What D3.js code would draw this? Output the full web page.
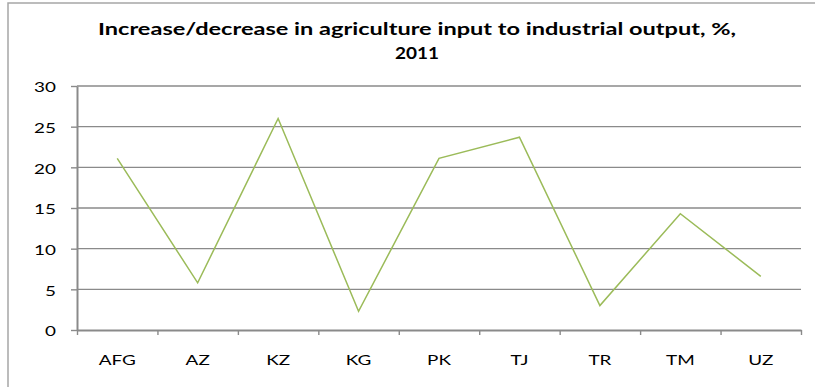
<!DOCTYPE html>
<html>
<head>
<meta charset="utf-8">
<script src="https://cdn.jsdelivr.net/npm/d3@7"></script>
<style>
  html, body { margin: 0; padding: 0; background: #fff; }
  svg { display: block; }
</style>
</head>
<body>
<svg id="chart" width="815" height="387"></svg>
<script>
// Country codes along the category axis
const categories = ["AFG", "AZ", "KZ", "KG", "PK", "TJ", "TR", "TM", "UZ"];
// Change in agriculture input to industrial output, %, 2011
const values = [21.1, 5.8, 26.0, 2.3, 21.1, 23.7, 3.0, 14.3, 6.6];
// Value axis ticks
const yTicks = [0, 5, 10, 15, 20, 25, 30];
const titleLines = ["Increase/decrease in agriculture input to industrial output, %,", "2011"];

const svg = d3.select("#chart");
const W = 815, H = 387;
const plot = { left: 77, right: 801, top: 86, bottom: 330 };
const gray = "#8a8a8a";
const stretch = 1.35; // horizontal widening of the label glyphs

// Outer chart frame (top and left edges inside the window)
svg.append("path")
  .attr("d", `M8,${H} L8,3 L${W},3`)
  .attr("fill", "none")
  .attr("stroke", "#a6a6a6")
  .attr("stroke-width", 1.5);

// Title
const title = svg.append("g")
  .attr("font-family", "Lato, 'Open Sans', sans-serif")
  .attr("font-weight", 700)
  .attr("font-size", 17)
  .attr("fill", "#000")
  .attr("text-anchor", "middle");
title.append("text").attr("x", 417).attr("y", 35).text(titleLines[0])
  .attr("textLength", 638).attr("lengthAdjust", "spacingAndGlyphs");
title.append("text").attr("x", 417).attr("y", 59).text(titleLines[1])
  .attr("textLength", 44).attr("lengthAdjust", "spacingAndGlyphs");

// Scales
const y = d3.scaleLinear().domain([0, 30]).range([plot.bottom, plot.top]);
const xBand = d3.scaleBand().domain(categories).range([plot.left, plot.right]).padding(0);
const xEdge = d3.scaleLinear().domain([0, categories.length]).range([plot.left, plot.right]);

// Horizontal gridlines
svg.append("g")
  .selectAll("line")
  .data(yTicks.filter(t => t > 0))
  .join("line")
  .attr("x1", plot.left).attr("x2", plot.right)
  .attr("y1", d => y(d)).attr("y2", d => y(d))
  .attr("stroke", gray)
  .attr("stroke-width", 1.4);

function widen(sel, anchorAttr) {
  sel.each(function () {
    const t = d3.select(this);
    const ax = +t.attr(anchorAttr) || 0;
    t.attr("transform", `translate(${ax},0) scale(${stretch},1) translate(${-ax},0)`);
  });
}

// Value axis
const yAxis = svg.append("g")
  .attr("transform", `translate(${plot.left},0)`)
  .call(d3.axisLeft(y).tickValues(yTicks).tickSize(6).tickSizeOuter(0).tickPadding(15));
yAxis.select(".domain").attr("stroke", gray).attr("stroke-width", 2);
yAxis.selectAll(".tick line").attr("stroke", gray).attr("stroke-width", 1.4);
yAxis.selectAll(".tick text")
  .attr("font-family", "Lato, sans-serif")
  .attr("font-size", 14)
  .attr("fill", "#000")
  .attr("dy", "0.42em")
  .call(widen, "x");

// Category axis: boundary ticks
const xTickAxis = svg.append("g")
  .attr("transform", `translate(0,${plot.bottom})`)
  .call(d3.axisBottom(xEdge).tickValues(d3.range(categories.length + 1)).tickFormat("").tickSize(5).tickSizeOuter(0));
xTickAxis.select(".domain").attr("stroke", gray).attr("stroke-width", 2);
xTickAxis.selectAll(".tick line").attr("stroke", gray).attr("stroke-width", 1.4);

// Category axis: centred labels
const xLabelAxis = svg.append("g")
  .attr("transform", `translate(0,${plot.bottom})`)
  .call(d3.axisBottom(xBand).tickSize(0).tickPadding(25));
xLabelAxis.select(".domain").remove();
xLabelAxis.selectAll(".tick text")
  .attr("font-family", "Lato, sans-serif")
  .attr("font-size", 14)
  .attr("fill", "#000")
  .call(widen, "x");

// Series line
const line = d3.line()
  .x((d, i) => xBand(categories[i]) + xBand.bandwidth() / 2)
  .y(d => y(d));
svg.append("path")
  .datum(values)
  .attr("d", line)
  .attr("fill", "none")
  .attr("stroke", "#9bbb59")
  .attr("stroke-width", 1.5)
  .attr("stroke-linejoin", "miter");
</script>
</body>
</html>
